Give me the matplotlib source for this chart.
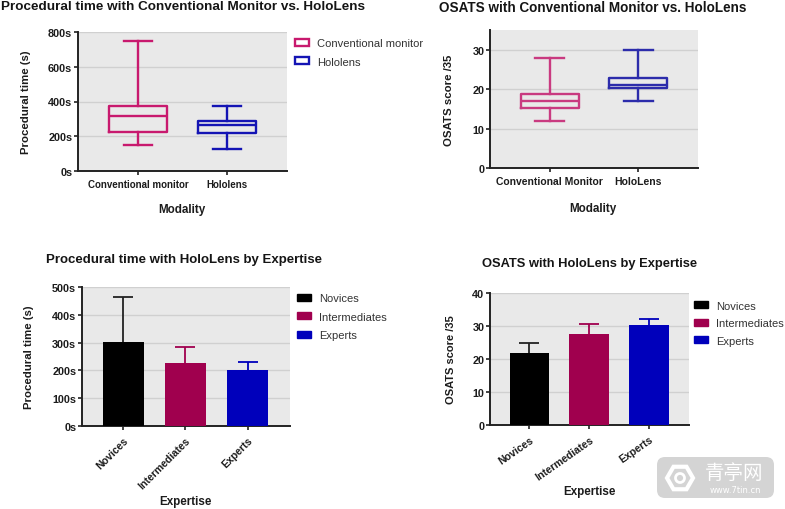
import math
import matplotlib
matplotlib.use("Agg")
import matplotlib.pyplot as plt
from matplotlib.patches import Patch, FancyBboxPatch, RegularPolygon, Circle

plt.rcParams['font.family'] = ['Liberation Sans', 'DejaVu Sans']

W, H = 785, 510
PINK = '#c8196e'
PINK2 = '#c93a80'
BLUE = '#1414b4'
BLUE2 = '#2c2cab'
BAR_RED = '#a0004e'
BAR_BLUE = '#0000bb'
BG = '#e9e9e9'
GRID = '#d0d0d0'
INK = '#1c1c1c'

# Panel A: procedural time by modality
time_modalities = ['Conventional monitor', 'Hololens']
time_low = [150, 125]
time_q1 = [225, 220]
time_med = [318, 265]
time_q3 = [375, 290]
time_high = [750, 375]
time_ticks = [0, 200, 400, 600, 800]

# Panel B: OSATS by modality
osats_modalities = ['Conventional Monitor', 'HoloLens']
osats_low = [12, 17]
osats_q1 = [15.2, 20.2]
osats_med = [17, 21]
osats_q3 = [18.8, 22.8]
osats_high = [28, 30]
osats_ticks = [0, 10, 20, 30]

# Panels C and D: HoloLens by expertise
expertise = ['Novices', 'Intermediates', 'Experts']
time_mean = [302, 225, 200]
time_err_top = [463, 285, 232]
exp_time_ticks = [0, 100, 200, 300, 400, 500]
score_mean = [21.8, 27.7, 30.3]
score_err_top = [24.7, 30.6, 32.2]
score_ticks = [0, 10, 20, 30, 40]

fig = plt.figure(figsize=(W / 100, H / 100), dpi=100, facecolor='white')


def make_axes(left, right, top, bottom):
    ax = fig.add_axes([left / W, 1 - bottom / H, (right - left) / W, (bottom - top) / H])
    ax.set_facecolor(BG)
    ax.set_axisbelow(True)
    ax.grid(axis='y', color=GRID, lw=1)
    ax.spines['top'].set_visible(False)
    ax.spines['right'].set_visible(False)
    for s in ('left', 'bottom'):
        ax.spines[s].set_linewidth(1.4)
        ax.spines[s].set_color('#222222')
    ax.tick_params(axis='both', width=1.2, length=2.6, color='#222222', labelcolor=INK, pad=1.5)
    return ax


def place_labels(ax, box, xlabel, ylabel, xpx, xlabel_y, ylabel_x, size=8.2):
    l, r, t, b = box
    ax.set_xlabel(xlabel, fontweight='bold', fontsize=8.4, color=INK, va='center')
    ax.set_ylabel(ylabel, fontweight='bold', fontsize=size, color=INK, va='center')
    ax.xaxis.set_label_coords((xpx - l) / (r - l), (b - xlabel_y) / (b - t))
    ax.yaxis.set_label_coords((ylabel_x - l) / (r - l), 0.5)


def title(x, y, s, size):
    fig.text(x / W, 1 - y / H, s, fontweight='bold', fontsize=size, color='#151515', ha='left', va='center')


def box_panel(box, names, low, q1, med, q3, high, ticks, ymax, colors, fmt, tick_size):
    ax = make_axes(*box)
    for i, c in enumerate(colors):
        stats = [dict(med=med[i], q1=q1[i], q3=q3[i], whislo=low[i], whishi=high[i], fliers=[], label=names[i])]
        style = dict(color=c, linewidth=1.7)
        ax.bxp(stats, positions=[i + 1], widths=0.655, showfliers=False,
               boxprops=style, medianprops=style, whiskerprops=style,
               capprops=style, capwidths=0.325, manage_ticks=False)
    ax.set_xlim(0.326, 2.674)
    ax.set_ylim(0, ymax)
    ax.set_xticks([1, 2])
    ax.set_xticklabels(names, fontweight='bold', fontsize=tick_size)
    ax.tick_params(axis='x', pad=3)
    ax.set_yticks(ticks)
    ax.set_yticklabels([fmt.format(v) for v in ticks], fontweight='bold', fontsize=7.8)
    return ax


def bar_panel(box, names, vals, tops, ticks, ymax, xlim, width, fmt, rot):
    ax = make_axes(*box)
    colors = ['#000000', BAR_RED, BAR_BLUE]
    ecolors = ['#222222', BAR_RED, BAR_BLUE]
    xs = list(range(len(names)))
    ax.bar(xs, vals, width=width, color=colors, linewidth=0, zorder=3)
    for x, v, t, ec in zip(xs, vals, tops, ecolors):
        eb = ax.errorbar([x], [v], yerr=[[0], [t - v]], color=ec, capsize=7.5, elinewidth=1.3,
                         capthick=1.3, zorder=2)
        eb.lines[1][0].set_visible(False)
    ax.set_xlim(*xlim)
    ax.set_ylim(0, ymax)
    ax.set_xticks(xs)
    ax.set_xticklabels(names, fontweight='bold', fontsize=7.6, rotation=rot, ha='right',
                       rotation_mode='anchor')
    ax.tick_params(axis='x', pad=4)
    ax.set_yticks(ticks)
    ax.set_yticklabels([fmt.format(v) for v in ticks], fontweight='bold', fontsize=7.8)
    return ax


def legend(ax, handles, labels, x, y, spacing):
    fig.legend(handles, labels, loc='upper left', bbox_to_anchor=(x / W, 1 - y / H),
               frameon=False, fontsize=8, labelcolor='#333333', borderpad=0, borderaxespad=0,
               handlelength=1.27, handleheight=0.6, handletextpad=0.75, labelspacing=spacing)


# Panel A
boxA = (78, 287, 33, 172)
axA = box_panel(boxA, time_modalities, time_low, time_q1, time_med, time_q3, time_high,
                time_ticks, 800, [PINK, BLUE], '{}s', 7.0)
place_labels(axA, boxA, 'Modality', 'Procedural time (s)', 182, 210, 26)
title(1, 7, 'Procedural time with Conventional Monitor vs. HoloLens', 9.7)
legend(axA, [Patch(facecolor='none', edgecolor=PINK, lw=1.7), Patch(facecolor='none', edgecolor=BLUE, lw=1.7)],
       time_modalities, 295, 39.5, 0.75)

# Panel B
boxB = (490, 698, 31, 169)
axB = box_panel(boxB, osats_modalities, osats_low, osats_q1, osats_med, osats_q3, osats_high,
                osats_ticks, 35, [PINK2, BLUE2], '{}', 7.5)
place_labels(axB, boxB, 'Modality', 'OSATS score /35', 593, 209, 449)
title(439, 8, 'OSATS with Conventional Monitor vs. HoloLens', 9.75)

# Panel C
boxC = (82, 290, 288, 427)
axC = bar_panel(boxC, expertise, time_mean, time_err_top, exp_time_ticks, 500,
                (-0.66, 2.68), 0.66, '{}s', 45)
place_labels(axC, boxC, 'Expertise', 'Procedural time (s)', 185, 502, 29)
title(46, 260, 'Procedural time with HoloLens by Expertise', 9.55)
legend(axC, [Patch(color=c) for c in ('#000000', BAR_RED, BAR_BLUE)], expertise, 297, 294, 0.77)

# Panel D
boxD = (490, 689, 294, 426)
axD = bar_panel(boxD, expertise, score_mean, score_err_top, score_ticks, 40,
                (-0.66, 2.67), 0.66, '{}', 35)
place_labels(axD, boxD, 'Expertise', 'OSATS score /35', 589, 492, 451, size=8.0)
title(482, 264, 'OSATS with HoloLens by Expertise', 9.3)
legend(axD, [Patch(color=c) for c in ('#000000', BAR_RED, BAR_BLUE)], expertise, 694, 301.5, 0.68)

# Watermark
ov = fig.add_axes([0, 0, 1, 1], zorder=10)
ov.set_xlim(0, W)
ov.set_ylim(H, 0)
ov.axis('off')
ov.patch.set_alpha(0)
ov.add_patch(FancyBboxPatch((664, 465), 103, 27, boxstyle='round,pad=7,rounding_size=8', lw=0, fc='#d4d4d4'))
ov.add_patch(RegularPolygon((680, 479), 6, radius=13, orientation=math.pi / 2, fc='none', ec='white', lw=3))
ov.add_patch(Circle((680, 479), 4.5, fc='none', ec='white', lw=2))
ov.text(734, 474, '青亭网', color='white', fontsize=14, ha='center', va='center',
        family=['Noto Sans CJK SC', 'DejaVu Sans'])
ov.text(735, 491, 'www.7tin.cn', color='white', fontsize=6, ha='center', va='center', family=['DejaVu Sans'])

fig.savefig('out.png', dpi=100, facecolor='white')
